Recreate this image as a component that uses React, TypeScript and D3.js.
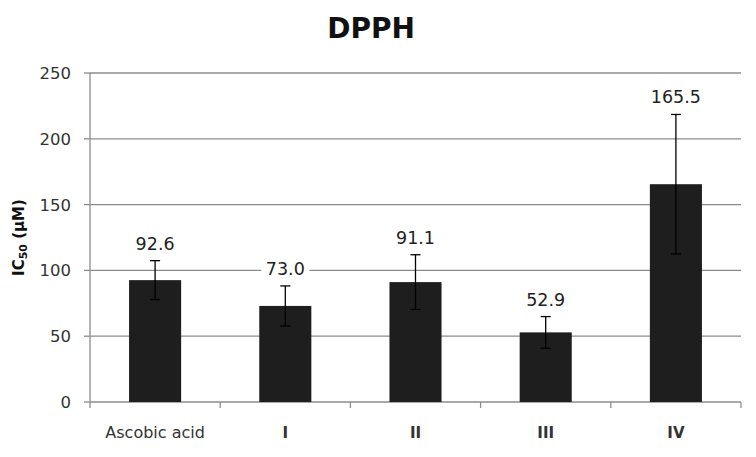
import React from "react";
import * as d3 from "d3";

// IC50 values
const categories = ["Ascobic acid", "I", "II", "III", "IV"];
const values = [92.6, 73.0, 91.1, 52.9, 165.5];
const errors = [14.8, 15.2, 20.8, 12.0, 53.0];
const yTicks = [0, 50, 100, 150, 200, 250];

const W = 756;
const H = 457;
const margin = { left: 90, right: 15, top: 73, bottom: 55 };

export default function App() {
  const x = d3
    .scaleBand<string>()
    .domain(categories)
    .range([margin.left, W - margin.right])
    .paddingInner(0.6)
    .paddingOuter(0.3);
  const y = d3.scaleLinear().domain([0, 250]).range([H - margin.bottom, margin.top]);
  const bandStart = (i: number) => margin.left + i * ((W - margin.right - margin.left) / categories.length);
  const font = "DejaVu Sans, Verdana, sans-serif";

  return (
    <svg width={W} height={H} style={{ position: "absolute", left: 0, top: 0 }}>
      <rect width={W} height={H} fill="#fff" />
      <text x={371} y={38} textAnchor="middle" fontFamily={font} fontWeight="bold" fontSize={28} fill="#111">
        DPPH
      </text>
      {/* gridlines */}
      {yTicks.map((t) => (
        <g key={t}>
          {t > 0 && <line x1={margin.left} x2={W - margin.right} y1={y(t)} y2={y(t)} stroke="#8c8c8c" strokeWidth={1.3} />}
          <line x1={margin.left - 6} x2={margin.left} y1={y(t)} y2={y(t)} stroke="#8c8c8c" strokeWidth={1.3} />
          <text x={margin.left - 19} y={y(t)} dy="0.36em" textAnchor="end" fontFamily={font} fontSize={16.5} fill="#333">
            {t}
          </text>
        </g>
      ))}
      {/* axes */}
      <line x1={margin.left} x2={margin.left} y1={margin.top} y2={y(0) + 6} stroke="#8c8c8c" strokeWidth={1.3} />
      <line x1={margin.left} x2={W - margin.right} y1={y(0)} y2={y(0)} stroke="#8c8c8c" strokeWidth={1.3} />
      {categories.map((_, i) => (
        <line key={i} x1={bandStart(i + 1)} x2={bandStart(i + 1)} y1={y(0)} y2={y(0) + 6} stroke="#8c8c8c" strokeWidth={1.3} />
      ))}
      {/* bars */}
      {categories.map((c, i) => {
        const cx = (x(c) ?? 0) + x.bandwidth() / 2;
        const top = y(values[i] + errors[i]);
        const bot = y(values[i] - errors[i]);
        return (
          <g key={c}>
            <rect x={x(c)} y={y(values[i])} width={x.bandwidth()} height={y(0) - y(values[i])} fill="#1e1e1e" />
            <line x1={cx} x2={cx} y1={top} y2={bot} stroke="#000" strokeWidth={1.3} />
            <line x1={cx - 5} x2={cx + 5} y1={top} y2={top} stroke="#000" strokeWidth={1.3} />
            <line x1={cx - 5} x2={cx + 5} y1={bot} y2={bot} stroke="#000" strokeWidth={1.3} />
            <rect x={cx - 24} y={top - 29} width={48} height={20} fill="#fff" />
            <text x={cx} y={top - 11} textAnchor="middle" fontFamily={font} fontSize={17.5} fill="#222">
              {values[i].toFixed(1)}
            </text>
            <text
              x={cx}
              y={438}
              textAnchor="middle"
              fontFamily={font}
              fontSize={i === 0 ? 16 : 15}
              fontWeight={i === 0 ? "normal" : "bold"}
              fill="#333"
            >
              {c}
            </text>
          </g>
        );
      })}
      <text
        transform={`translate(24, ${(margin.top + y(0)) / 2}) rotate(-90)`}
        textAnchor="middle"
        fontFamily={font}
        fontWeight="bold"
        fontSize={15}
        fill="#111"
      >
        IC<tspan fontSize={11} dy={3}>50</tspan>
        <tspan dy={-3}> (µM)</tspan>
      </text>
    </svg>
  );
}
